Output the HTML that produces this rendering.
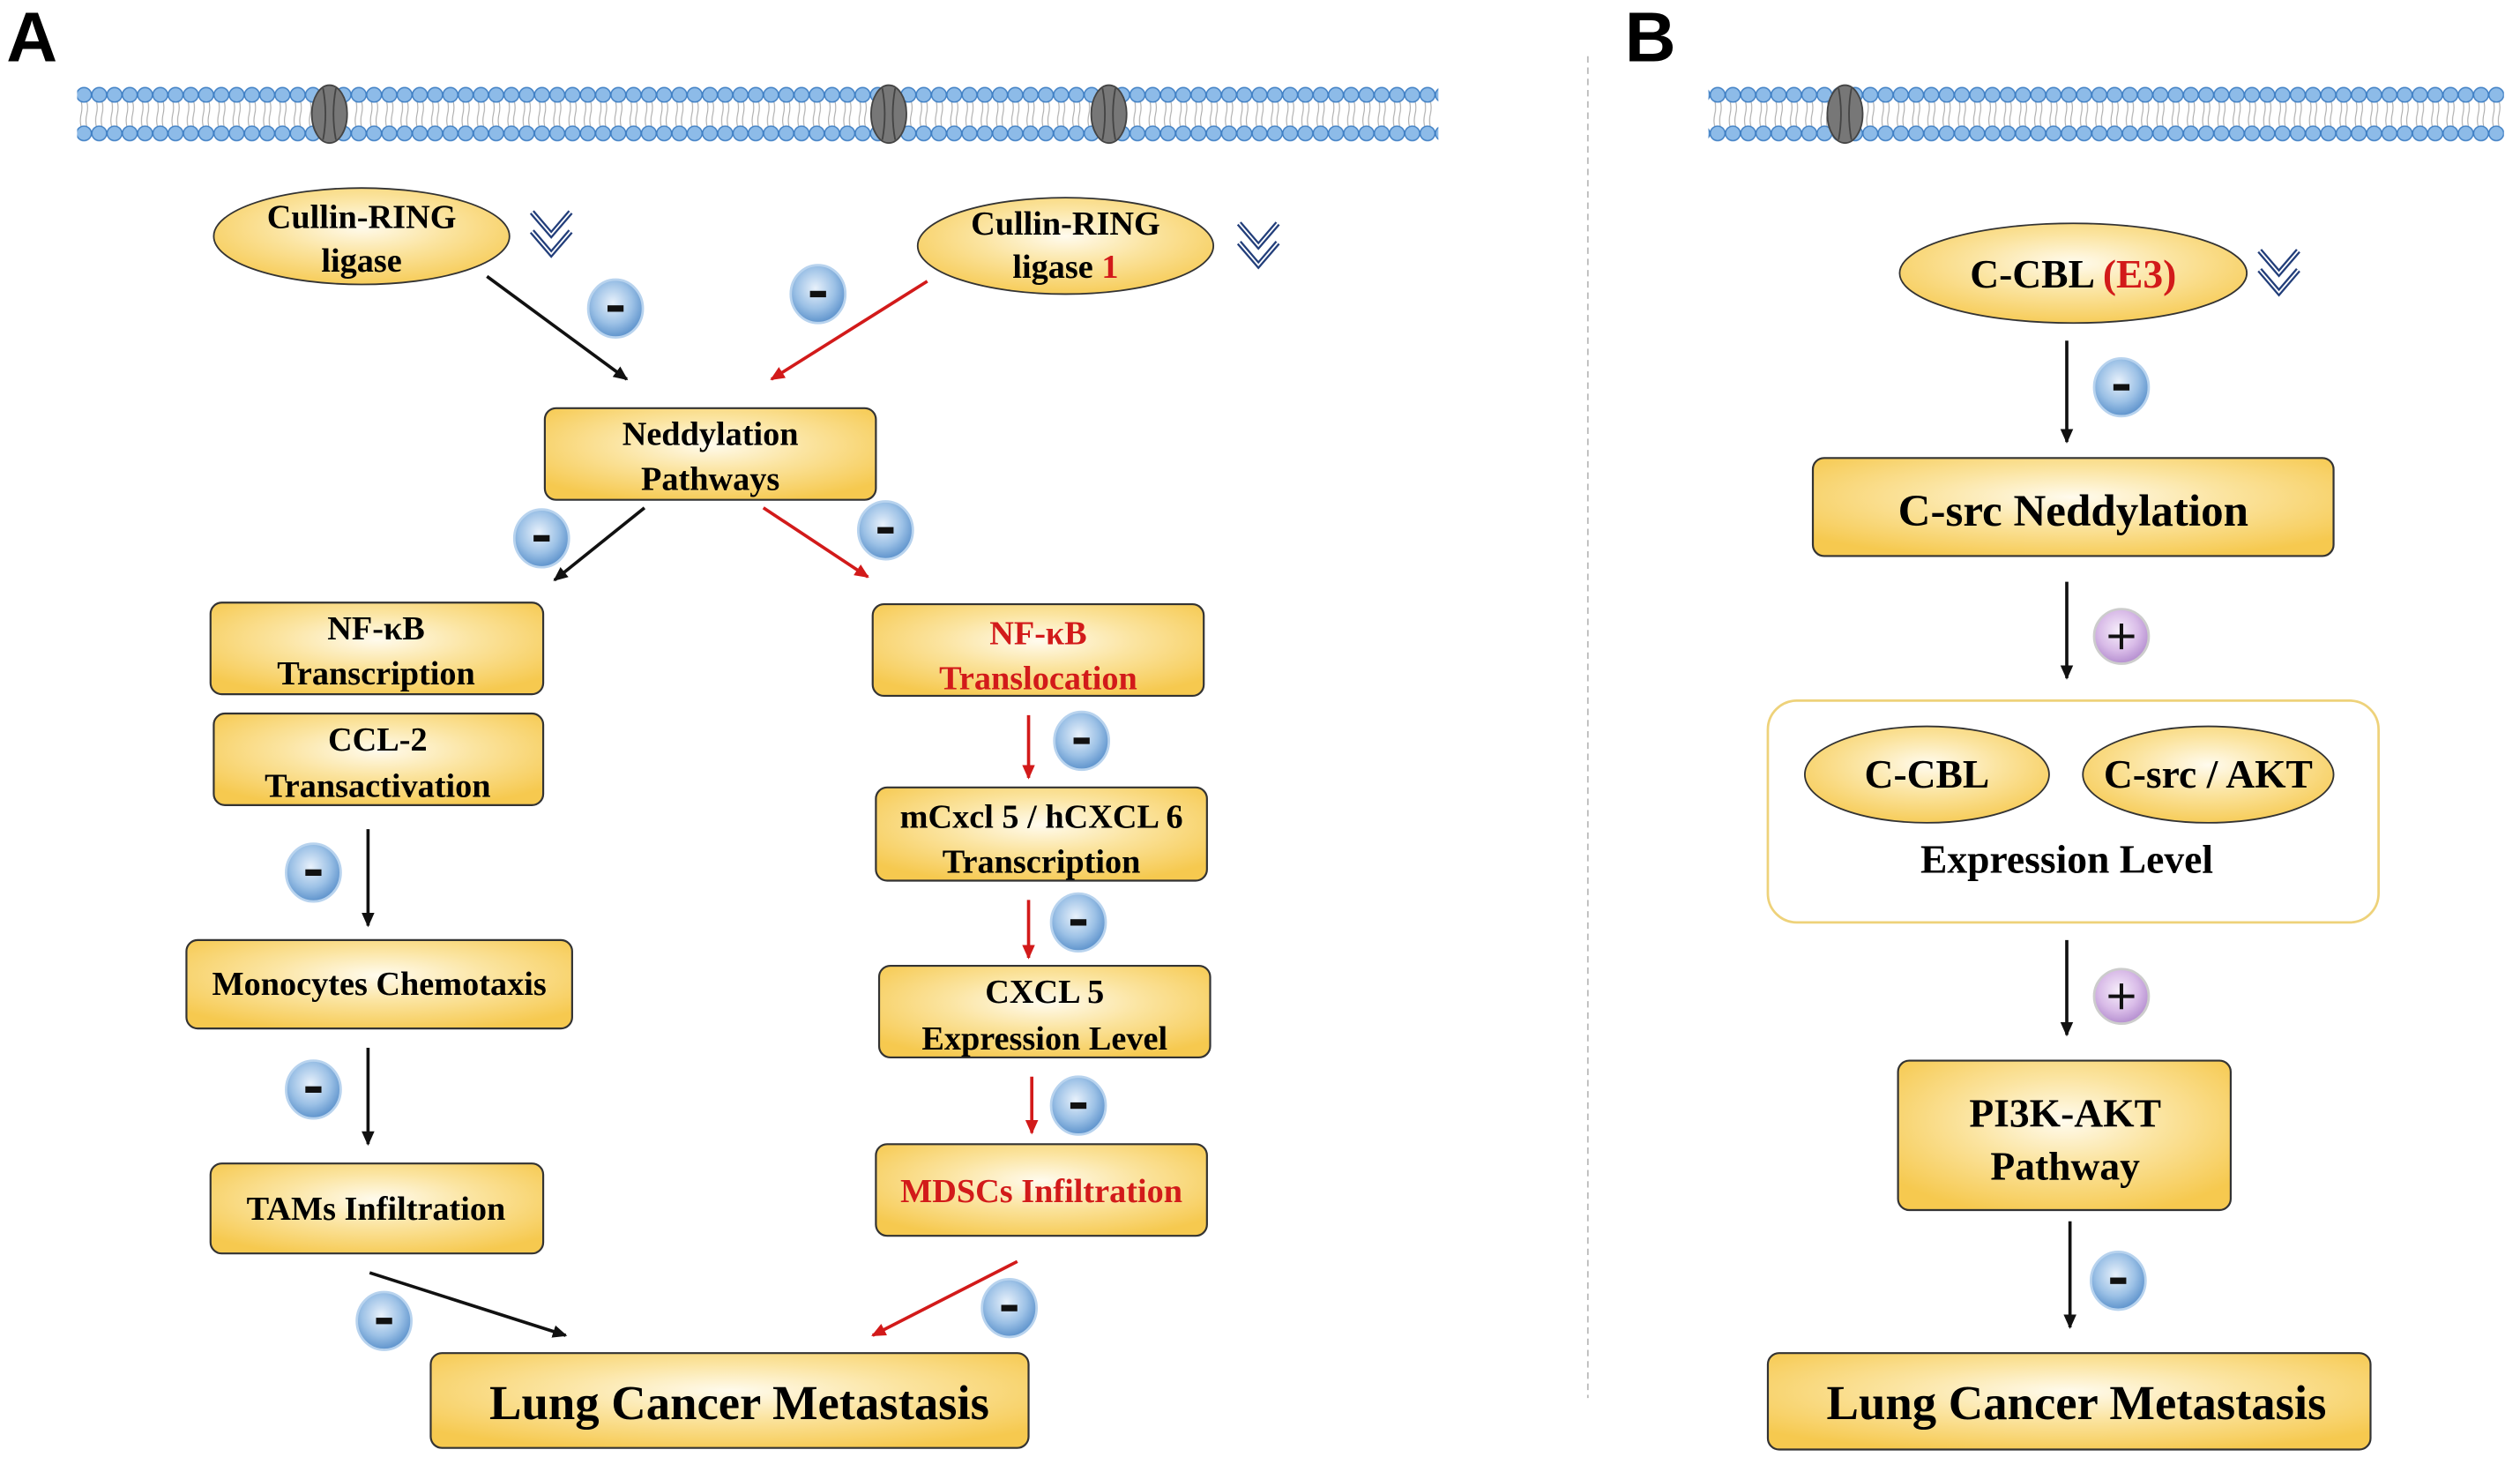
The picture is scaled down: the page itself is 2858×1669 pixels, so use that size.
<!DOCTYPE html>
<html><head><meta charset="utf-8"><style>
html,body{margin:0;padding:0;background:#fff;}
svg{display:block;}
svg text, svg tspan{font-family:"Liberation Serif","Times New Roman",Times,"DejaVu Serif","Noto Serif CJK SC",serif;font-weight:bold;}
svg text.sans{font-family:"Liberation Sans",Arial,sans-serif;}
</style></head><body>
<svg width="2858" height="1669" viewBox="0 0 1568 916" preserveAspectRatio="none" xmlns="http://www.w3.org/2000/svg">
<defs>
<radialGradient id="yg" cx="50%" cy="40%" r="65%">
<stop offset="0" stop-color="#fffbee"/><stop offset="0.45" stop-color="#fbe4a0"/><stop offset="1" stop-color="#f6c94f"/></radialGradient>
<radialGradient id="bg" cx="45%" cy="40%" r="60%">
<stop offset="0" stop-color="#e8f1fb"/><stop offset="0.6" stop-color="#9cc1e6"/><stop offset="1" stop-color="#5e93cc"/></radialGradient>
<radialGradient id="pg" cx="45%" cy="40%" r="60%">
<stop offset="0" stop-color="#f6eefa"/><stop offset="0.6" stop-color="#d9bce8"/><stop offset="1" stop-color="#b58fd0"/></radialGradient>
<pattern id="mem" x="0" y="54" width="9.5" height="34" patternUnits="userSpaceOnUse">
<path d="M3 9 q1 4 0 8 q-1 4 0 8 M6.5 9 q1 4 0 8 q-1 4 0 8" stroke="#aaa" stroke-width="0.6" fill="none"/>
<ellipse cx="4.75" cy="5" rx="4.6" ry="4.5" fill="#8dbbe8" stroke="#3f7fc4" stroke-width="0.8"/>
<ellipse cx="4.75" cy="29" rx="4.6" ry="4.5" fill="#8dbbe8" stroke="#3f7fc4" stroke-width="0.8"/>
</pattern>
<marker id="ak" markerWidth="10" markerHeight="10" refX="8" refY="5" orient="auto" markerUnits="userSpaceOnUse"><path d="M0,1 L9,5 L0,9 z" fill="#111"/></marker>
<marker id="ar" markerWidth="10" markerHeight="10" refX="8" refY="5" orient="auto" markerUnits="userSpaceOnUse"><path d="M0,1 L9,5 L0,9 z" fill="#d21a1a"/></marker>
<g id="prot"><ellipse cx="0" cy="0" rx="11" ry="18" fill="#777" stroke="#444"/><path d="M-4 -16 q3 16 0 32 M4 -16 q-3 16 0 32" stroke="#444" fill="none"/></g>
<g id="minus"><ellipse cx="0" cy="0" rx="17" ry="18" fill="url(#bg)" stroke="#b8d3ee" stroke-width="1.5"/><rect x="-5" y="-2" width="10" height="4" fill="#111"/></g>
<g id="plus"><ellipse cx="0" cy="0" rx="17" ry="17" fill="url(#pg)" stroke="#ccc" stroke-width="1.5"/><path d="M-8 0 H8 M0 -8 V8" stroke="#111" stroke-width="2.2"/></g>
<g id="chev"><path d="M-12 -16 L0 -2 L12 -16 M-12 -4 L0 10 L12 -4" stroke="#223e7a" stroke-width="3.5" fill="none"/><path d="M-12 -16 L0 -2 L12 -16 M-12 -4 L0 10 L12 -4" stroke="#fff" stroke-width="1" fill="none"/></g>
</defs>

<text class="sans" x="4" y="38" font-size="44">A</text>
<text class="sans" x="1011" y="38" font-size="44">B</text>

<rect x="48" y="54" width="847" height="34" fill="url(#mem)"/>
<use href="#prot" x="205" y="71"/><use href="#prot" x="553" y="71"/><use href="#prot" x="690" y="71"/>
<rect x="1063" y="54" width="495" height="34" fill="url(#mem)"/>
<use href="#prot" x="1148" y="71"/>

<line x1="988" y1="35" x2="988" y2="870" stroke="#bbb" stroke-width="1" stroke-dasharray="4,3"/>

<ellipse cx="225" cy="147" rx="92" ry="30" fill="url(#yg)" stroke="#333"/>
<text x="225" y="142" font-size="21" text-anchor="middle">Cullin-RING</text>
<text x="225" y="169" font-size="21" text-anchor="middle">ligase</text>
<use href="#chev" x="343" y="148"/>
<ellipse cx="663" cy="153" rx="92" ry="30" fill="url(#yg)" stroke="#333"/>
<text x="663" y="146" font-size="21" text-anchor="middle">Cullin-RING</text>
<text x="663" y="173" font-size="21" text-anchor="middle">ligase <tspan fill="#d21a1a">1</tspan></text>
<use href="#chev" x="783" y="155"/>
<use href="#minus" x="383" y="192"/><use href="#minus" x="509" y="183"/>
<line x1="303" y1="172" x2="390" y2="236" stroke="#111" stroke-width="2" marker-end="url(#ak)"/>
<line x1="577" y1="175" x2="480" y2="236" stroke="#d21a1a" stroke-width="2" marker-end="url(#ar)"/>

<g stroke="#333" stroke-width="1.2" fill="url(#yg)">
<rect x="339" y="254" width="206" height="57" rx="7"/>
<rect x="131" y="375" width="207" height="57" rx="7"/>
<rect x="133" y="444" width="205" height="57" rx="7"/>
<rect x="116" y="585" width="240" height="55" rx="7"/>
<rect x="131" y="724" width="207" height="56" rx="7"/>
<rect x="268" y="842" width="372" height="59" rx="7"/>
<rect x="543" y="376" width="206" height="57" rx="7"/>
<rect x="545" y="490" width="206" height="58" rx="7"/>
<rect x="547" y="601" width="206" height="57" rx="7"/>
<rect x="545" y="712" width="206" height="57" rx="7"/>
<rect x="1128" y="285" width="324" height="61" rx="7"/>
<rect x="1181" y="660" width="207" height="93" rx="7"/>
<rect x="1100" y="842" width="375" height="60" rx="7"/>
</g>
<g font-size="21" text-anchor="middle">
<text x="442" y="277">Neddylation</text><text x="442" y="305">Pathways</text>
<text x="234" y="398">NF-κB</text><text x="234" y="426">Transcription</text>
<text x="235" y="467">CCL-2</text><text x="235" y="496">Transactivation</text>
<text x="236" y="619">Monocytes Chemotaxis</text>
<text x="234" y="759">TAMs Infiltration</text>
<text x="646" y="401" fill="#d21a1a">NF-κB</text><text x="646" y="429" fill="#d21a1a">Translocation</text>
<text x="648" y="515">mCxcl 5 / hCXCL 6</text><text x="648" y="543">Transcription</text>
<text x="650" y="624">CXCL 5</text><text x="650" y="653">Expression Level</text>
<text x="648" y="748" fill="#d21a1a">MDSCs Infiltration</text>
</g>
<text x="460" y="883" font-size="30" text-anchor="middle">Lung Cancer Metastasis</text>

<line x1="401" y1="316" x2="345" y2="361" stroke="#111" stroke-width="2" marker-end="url(#ak)"/>
<line x1="475" y1="316" x2="540" y2="359" stroke="#d21a1a" stroke-width="2" marker-end="url(#ar)"/>
<use href="#minus" x="337" y="335"/><use href="#minus" x="551" y="330"/>
<line x1="229" y1="516" x2="229" y2="576" stroke="#111" stroke-width="2" marker-end="url(#ak)"/>
<use href="#minus" x="195" y="543"/>
<line x1="229" y1="652" x2="229" y2="712" stroke="#111" stroke-width="2" marker-end="url(#ak)"/>
<use href="#minus" x="195" y="678"/>
<line x1="230" y1="792" x2="352" y2="831" stroke="#111" stroke-width="2" marker-end="url(#ak)"/>
<use href="#minus" x="239" y="822"/>
<line x1="640" y1="445" x2="640" y2="484" stroke="#d21a1a" stroke-width="2" marker-end="url(#ar)"/>
<use href="#minus" x="673" y="461"/>
<line x1="640" y1="560" x2="640" y2="596" stroke="#d21a1a" stroke-width="2" marker-end="url(#ar)"/>
<use href="#minus" x="671" y="574"/>
<line x1="642" y1="670" x2="642" y2="705" stroke="#d21a1a" stroke-width="2" marker-end="url(#ar)"/>
<use href="#minus" x="671" y="688"/>
<line x1="633" y1="785" x2="543" y2="831" stroke="#d21a1a" stroke-width="2" marker-end="url(#ar)"/>
<use href="#minus" x="628" y="814"/>

<ellipse cx="1290" cy="170" rx="108" ry="31" fill="url(#yg)" stroke="#333"/>
<text x="1290" y="179" font-size="25" text-anchor="middle">C-CBL <tspan fill="#d21a1a">(E3)</tspan></text>
<use href="#chev" x="1418" y="172"/>
<line x1="1286" y1="212" x2="1286" y2="275" stroke="#111" stroke-width="2" marker-end="url(#ak)"/>
<use href="#minus" x="1320" y="241"/>
<text x="1290" y="327" font-size="28" text-anchor="middle">C-src Neddylation</text>
<line x1="1286" y1="362" x2="1286" y2="422" stroke="#111" stroke-width="2" marker-end="url(#ak)"/>
<use href="#plus" x="1320" y="396"/>
<rect x="1100" y="436" width="380" height="138" rx="18" fill="#fff" stroke="#eed27a" stroke-width="1.5"/>
<ellipse cx="1199" cy="482" rx="76" ry="30" fill="url(#yg)" stroke="#333"/>
<ellipse cx="1374" cy="482" rx="78" ry="30" fill="url(#yg)" stroke="#333"/>
<text x="1199" y="490" font-size="25" text-anchor="middle">C-CBL</text>
<text x="1374" y="490" font-size="25" text-anchor="middle">C-src / AKT</text>
<text x="1286" y="543" font-size="25" text-anchor="middle">Expression Level</text>
<line x1="1286" y1="585" x2="1286" y2="644" stroke="#111" stroke-width="2" marker-end="url(#ak)"/>
<use href="#plus" x="1320" y="620"/>
<text x="1285" y="701" font-size="25" text-anchor="middle">PI3K-AKT</text>
<text x="1285" y="734" font-size="25" text-anchor="middle">Pathway</text>
<line x1="1288" y1="760" x2="1288" y2="826" stroke="#111" stroke-width="2" marker-end="url(#ak)"/>
<use href="#minus" x="1318" y="797"/>
<text x="1292" y="883" font-size="30" text-anchor="middle">Lung Cancer Metastasis</text>
</svg>
</body></html>
